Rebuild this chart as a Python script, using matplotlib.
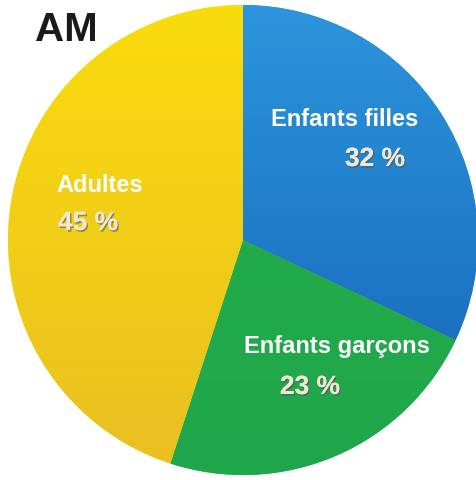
import matplotlib

matplotlib.use("Agg")
import matplotlib.pyplot as plt
import matplotlib.patheffects as pe
import numpy as np
from matplotlib.colors import LinearSegmentedColormap

labels = ["Enfants filles", "Enfants garçons", "Adultes"]
shares = [32, 23, 45]
pct_labels = ["32 %", "23 %", "45 %"]
title = "AM"

# top / bottom colours of each slice
top_colors = ["#2c95dc", "#25b04c", "#f9dc0c"]
bottom_colors = ["#1462b6", "#1fa64a", "#e9bf22"]

W, H = 477, 481
cx, cy, r = 243, H - 241, 235

fig = plt.figure(figsize=(W / 100, H / 100), dpi=100)
ax = fig.add_axes([0, 0, 1, 1])

wedges, _ = ax.pie(
    shares,
    startangle=90,
    counterclock=False,
    center=(cx, cy),
    radius=r,
    colors=top_colors,
    wedgeprops=dict(linewidth=0),
    frame=True,
)
ax.set_xlim(0, W)
ax.set_ylim(0, H)
ax.set_aspect("equal")
ax.axis("off")

grad = np.linspace(0, 1, 256).reshape(-1, 1)
for wedge, c_top, c_bot in zip(wedges, top_colors, bottom_colors):
    cmap = LinearSegmentedColormap.from_list("g", [c_bot, c_top])
    im = ax.imshow(
        grad,
        cmap=cmap,
        extent=(cx - r, cx + r, cy - r, cy + r),
        origin="lower",
        aspect="auto",
        zorder=wedge.get_zorder() + 0.1,
    )
    im.set_clip_path(wedge)

label_pos = [(345, 120), (337, 347), (100, 186)]
pct_pos = [(375, 160), (310, 388), (88, 224)]
shadow = [pe.withSimplePatchShadow(offset=(1, -1.2), shadow_rgbFace="#555555", alpha=0.6), pe.Normal()]

for text, (x, y) in zip(labels, label_pos):
    ax.text(x, H - y, text, ha="center", va="center", color="white",
            fontsize=17, fontweight="bold", family="Liberation Sans", zorder=5)

for text, (x, y) in zip(pct_labels, pct_pos):
    ax.text(x, H - y, text, ha="center", va="center", color="#eee8d6",
            fontsize=19, fontweight="bold", family="Liberation Sans", zorder=5,
            path_effects=shadow)

ax.text(66, H - 30, title, ha="center", va="center", color="#1a1a1a",
        fontsize=29, fontweight="bold", family="Liberation Sans", zorder=5)

fig.savefig("out.png", dpi=100)
